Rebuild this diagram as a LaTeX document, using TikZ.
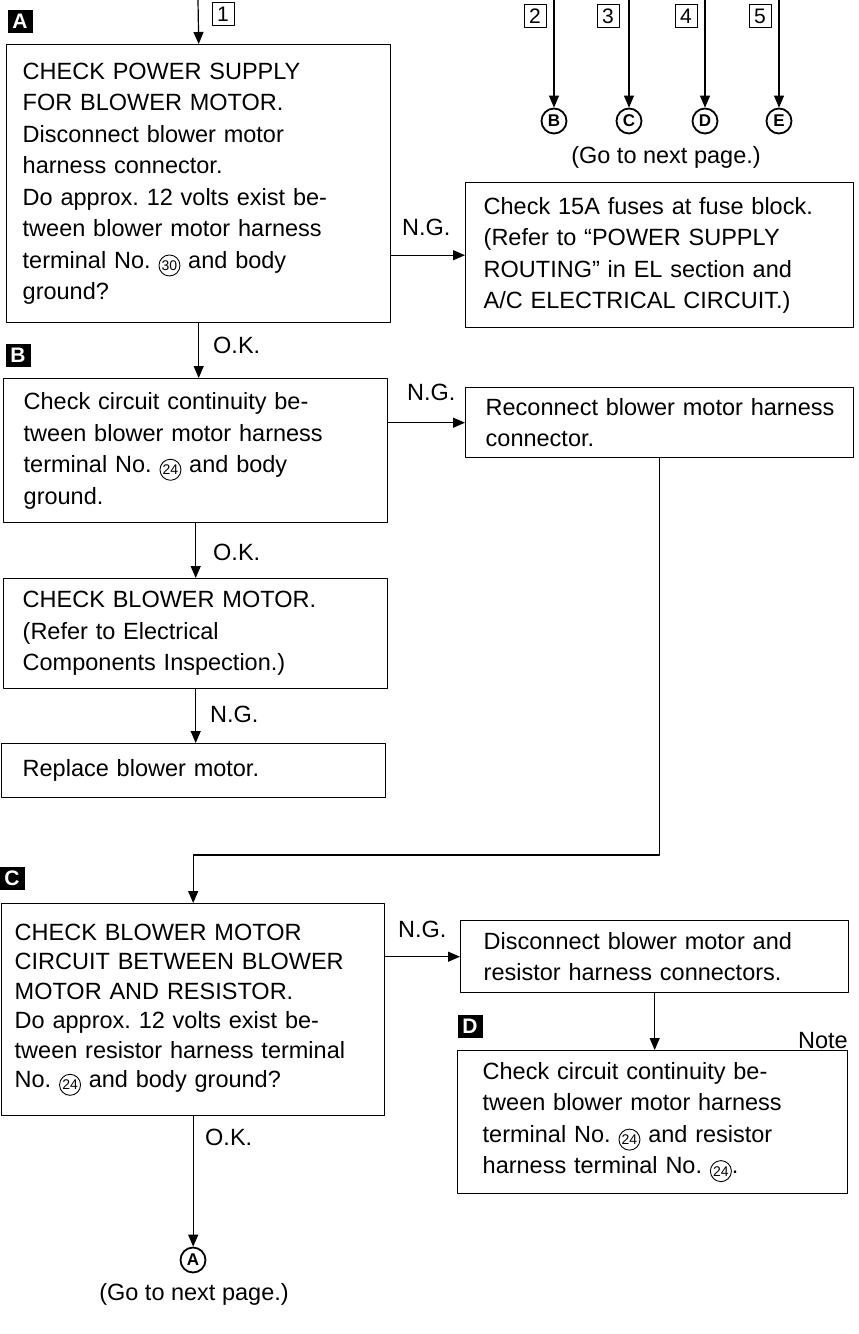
\documentclass[tikz,border=0pt]{standalone}
\usepackage{fontspec}
\setmainfont{Liberation Sans}
\usetikzlibrary{arrows.meta}

\newcommand{\bodyfont}{\fontsize{23.5}{31.5}\selectfont\frenchspacing\hyphenpenalty=10000 }
% circled terminal number inside the step text
\newcommand{\circno}[1]{\tikz[baseline=-10.5pt]\node[circle,draw,line width=0.9pt,minimum size=21pt,inner sep=0pt,font=\fontsize{14}{14}\selectfont] (cn) {#1};}

\begin{document}
\begin{tikzpicture}[x=1pt,y=-1pt,line join=round,
  stepbox/.style={draw,line width=1.4pt,anchor=north west,align=left,inner ysep=0pt,font=\bodyfont},
  flow/.style={line width=1.2pt,-{Triangle[length=12pt,width=10pt]}},
  tag/.style={fill=black,text=white,font=\bfseries\fontsize{21}{21}\selectfont,minimum width=25pt,minimum height=23pt,inner sep=0pt},
  numbox/.style={draw,line width=0.8pt,font=\fontsize{21}{21}\selectfont,minimum width=22pt,minimum height=23pt,inner sep=0pt},
  pagelink/.style={circle,draw,line width=1.8pt,font=\bfseries\fontsize{17}{17}\selectfont,minimum size=25pt,inner sep=0pt},
  verdict/.style={font=\bodyfont,inner sep=0pt},
]

  \useasboundingbox (0,0) rectangle (859,1334);

  % ---- entries from the previous page ----
  \coordinate (in1) at (198,0);
  \coordinate (in2) at (554,0);
  \coordinate (in3) at (629,0);
  \coordinate (in4) at (705,0);
  \coordinate (in5) at (779,0);
  \node[numbox] (num1) at (223,14) {1};
  \node[numbox] (num2) at (535,16) {2};
  \node[numbox] (num3) at (608,16) {3};
  \node[numbox] (num4) at (686,16) {4};
  \node[numbox] (num5) at (760,16) {5};

  % ---- jumps to the next page (top right) ----
  \node[pagelink] (goB) at (554,121) {B};
  \node[pagelink] (goC) at (629,121) {C};
  \node[pagelink] (goD) at (705,121) {D};
  \node[pagelink] (goE) at (779,121) {E};
  \node[verdict,anchor=base] (nextTop) at (666,163) {(Go to next page.)};
  \draw[flow] (in2) -- (goB);
  \draw[flow] (in3) -- (goC);
  \draw[flow] (in4) -- (goD);
  \draw[flow] (in5) -- (goE);

  % ---- step A ----
  \node[tag] (tagA) at (20,21) {A};
  \node[stepbox,minimum width=384pt,minimum height=278pt,inner xsep=16pt,text width=352pt] (boxA) at (6,44)
    {CHECK POWER SUPPLY\\FOR BLOWER MOTOR.\\Disconnect blower motor\\harness connector.\\Do approx. 12 volts exist be-\\tween blower motor harness\\terminal No. \circno{30} and body\\ground?};
  \draw[flow] (in1) -- (boxA.north);

  \node[stepbox,minimum width=388pt,minimum height=145pt,inner xsep=18pt,text width=352pt] (fuse) at (465,182)
    {Check 15A fuses at fuse block.\\(Refer to “POWER SUPPLY\\ROUTING” in EL section and\\A/C ELECTRICAL CIRCUIT.)};
  \draw[flow] (boxA.east |- fuse.west) -- (fuse.west);
  \node[verdict,anchor=base west] (ngA) at (402,235) {N.G.};

  % ---- step B ----
  \node[tag] (tagB) at (18,355) {B};
  \node[stepbox,minimum width=384pt,minimum height=144pt,inner xsep=20pt,text width=344pt] (boxB) at (3,378)
    {Check circuit continuity be-\\tween blower motor harness\\terminal No. \circno{24} and body\\ground.};
  \draw[flow] (boxA.south) -- (boxA.south |- boxB.north);
  \node[verdict,anchor=base west] (okA) at (213,353) {O.K.};

  \node[stepbox,minimum width=388pt,minimum height=70pt,inner xsep=20pt,text width=348pt] (recon) at (465,387)
    {\mbox{Reconnect blower motor harness}\\connector.};
  \draw[flow] (boxB.east |- recon.west) -- (recon.west);
  \node[verdict,anchor=base west] (ngB) at (407,400) {N.G.};

  \node[stepbox,minimum width=384pt,minimum height=110pt,inner xsep=19pt,text width=346pt] (motor) at (3,578)
    {CHECK BLOWER MOTOR.\\(Refer to Electrical\\Components Inspection.)};
  \draw[flow] (boxB.south) -- (boxB.south |- motor.north);
  \node[verdict,anchor=base west] (okB) at (213,560) {O.K.};

  \node[stepbox,minimum width=384pt,minimum height=54pt,inner xsep=21pt,text width=342pt] (replace) at (1,743)
    {Replace blower motor.};
  \draw[flow] (motor.south) -- (motor.south |- replace.north);
  \node[verdict,anchor=base west] (ngMotor) at (210,722) {N.G.};

  % ---- step C ----
  \node[tag] (tagC) at (12,878) {C};
  \node[stepbox,minimum width=383pt,minimum height=212pt,inner xsep=13pt,text width=357pt,
        font=\bodyfont\fontsize{23.5}{29.5}\selectfont] (boxC) at (1,903)
    {CHECK BLOWER MOTOR\\CIRCUIT BETWEEN BLOWER\\MOTOR AND RESISTOR.\\Do approx. 12 volts exist be-\\tween resistor harness terminal\\No. \circno{24} and body ground?};
  \coordinate (turnRC) at (658,855);
  \draw[flow] (recon.south) -- (recon.south |- turnRC) -| (boxC.north);

  \node[pagelink] (goA) at (193,1260) {A};
  \node[verdict,anchor=base] (nextBottom) at (194,1300) {(Go to next page.)};
  \draw[flow] (boxC.south) -- (boxC.south |- goA.north);
  \node[verdict,anchor=base west] (okC) at (205,1145) {O.K.};

  \node[stepbox,minimum width=388pt,minimum height=72pt,inner xsep=23pt,text width=342pt] (disc) at (460,920)
    {Disconnect blower motor and\\resistor harness connectors.};
  \draw[flow] (boxC.east |- disc.west) -- (disc.west);
  \node[verdict,anchor=base west] (ngC) at (398,937) {N.G.};

  % ---- step D ----
  \node[tag] (tagD) at (470,1026) {D};
  \node[verdict,anchor=base east] (noteD) at (848,1048) {Note};
  \node[stepbox,minimum width=390pt,minimum height=143pt,inner xsep=25pt,text width=340pt] (boxD) at (457,1050)
    {Check circuit continuity be-\\tween blower motor harness\\terminal No. \circno{24} and resistor\\harness terminal No. \circno{24}.};
  \draw[flow] (disc.south) -- (disc.south |- boxD.north);

\end{tikzpicture}
\end{document}
